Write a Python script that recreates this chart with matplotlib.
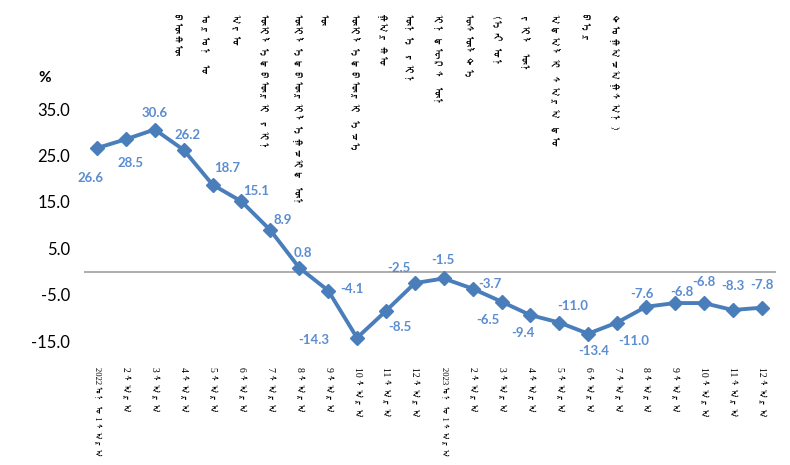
import matplotlib
matplotlib.use("Agg")
import matplotlib.pyplot as plt
from matplotlib import font_manager

# monthly values, 2022-01 .. 2023-12 (%)
values = [26.6, 28.5, 30.6, 26.2, 18.7, 15.1, 8.9, 0.8, -4.1, -14.3, -8.5, -2.5,
          -1.5, -3.7, -6.5, -9.4, -11.0, -13.4, -11.0, -7.6, -6.8, -6.8, -8.3, -7.8]
month_word = "ᠰᠠᠷᠠ"
xlabels = (["2022 ᠣᠨ ᠤ 1 " + month_word] + [f"{m} {month_word}" for m in range(2, 13)]
           + ["2023 ᠣᠨ ᠤ 1 " + month_word] + [f"{m} {month_word}" for m in range(2, 13)])
yticks = [-15, -5, 5, 15, 25, 35]
title_cols = ["ᠪᠦᠬᠦ", "ᠣᠷᠣᠨ ᠤ", "ᠠᠵᠤ", "ᠦᠢᠯᠡᠳᠪᠦᠷᠢ ᠶᠢᠨ", "ᠦᠢᠯᠡᠳᠪᠦᠷᠢᠯᠡᠭᠴᠢᠳ ᠦᠨ",
              "ᠦ", "ᠦᠢᠯᠡᠳᠪᠦᠷᠢ ᠡᠴᠡ", "ᠭᠠᠷᠬᠤ", "ᠦᠨᠡ ᠶᠢᠨ", "ᠢᠨᠳᠧᠺᠰ ᠦᠨ",
              "ᠥᠰᠦᠯᠲᠡ", "(ᠡᠩ ᠤᠨ", "ᠵᠢᠯ ᠦᠨ", "ᠠᠳᠠᠯᠢ ᠰᠠᠷᠠ ᠳᠤ", "ᠪᠡᠷ", "ᠲᠣᠭᠠᠴᠠᠭᠰᠠᠨ)"]

# label offsets in pixels (dx, dy down)
lab_off = [(-7, 30), (5, 24), (0, -17), (4, -15), (15, -17), (15, -10), (12, -10), (4, -15),
           (24, -2), (-43, 2), (14, 16), (-16, -15), (-1, -18), (17, -5), (-14, 18), (-7, 18),
           (13, -17), (6, 17), (17, 18), (-4, -13), (7, -11), (0, -21), (0, -24), (0, -23)]
title_x = [175, 205, 235, 264, 298, 323, 355, 380, 408, 438, 468, 497, 525, 555, 583, 615]


def find_mongolian_font():
    try:
        from fontTools.ttLib import TTFont
    except ImportError:
        return None
    for f in font_manager.findSystemFonts():
        try:
            tt = TTFont(f, fontNumber=0, lazy=True)
            if 0x1820 in tt.getBestCmap():
                font_manager.fontManager.addfont(f)
                return font_manager.FontProperties(fname=f).get_name()
        except Exception:
            pass
    return None


mong = find_mongolian_font()
serif_fam = ["Liberation Serif"] + ([mong] if mong else []) + ["DejaVu Sans"]
title_fam = ([mong] if mong else []) + ["DejaVu Sans"]

line_col = "#4A7EBB"
lab_col = "#5B8DD0"

fig = plt.figure(figsize=(7.9, 4.65), dpi=100)
W, H = 790, 465
ax = fig.add_axes([84 / W, (H - 364.3) / H, 692 / W, 278.4 / H])
x = list(range(len(values)))
ax.plot(x, values, color=line_col, lw=2.8, marker="D", ms=7.5, zorder=3)
ax.axhline(0, color="#A0A0A0", lw=1.2, zorder=1)
ax.set_xlim(-0.45, 23.5)
ax.set_ylim(-20, 40)
for s in ax.spines.values():
    s.set_visible(False)

ax.set_yticks(yticks)
ax.set_yticklabels([f"{v:.1f}" for v in yticks], family="Lato", fontsize=12)
ax.tick_params(axis="y", length=0, pad=10)
ax.set_xticks(x)
ax.set_xticklabels(xlabels, rotation=-90, ha="center", va="top", family=serif_fam, fontsize=7)
ax.tick_params(axis="x", length=0, pad=2)
# the two year labels are longer, shrink them to stay inside the figure
for i, lbl in enumerate(ax.get_xticklabels()):
    if i % 12 == 0:
        lbl.set_fontsize(6.2)

for i, v in enumerate(values):
    dx, dy = lab_off[i]
    ax.annotate(f"{v:.1f}", (i, v), xytext=(dx * 0.72, -dy * 0.72), textcoords="offset points",
                ha="center", va="center", color=lab_col, fontsize=9.5, fontweight="bold", family="Lato")

fig.text(45 / W, 1 - 78 / H, "%", ha="center", va="center", fontsize=11, fontweight="bold", family="Lato")
for tx, t in zip(title_x, title_cols):
    fig.text(tx / W, 1 - 14 / H, t, rotation=-90, ha="center", va="top", fontsize=8, family=title_fam)

fig.savefig("out.png", dpi=100, facecolor="white")
